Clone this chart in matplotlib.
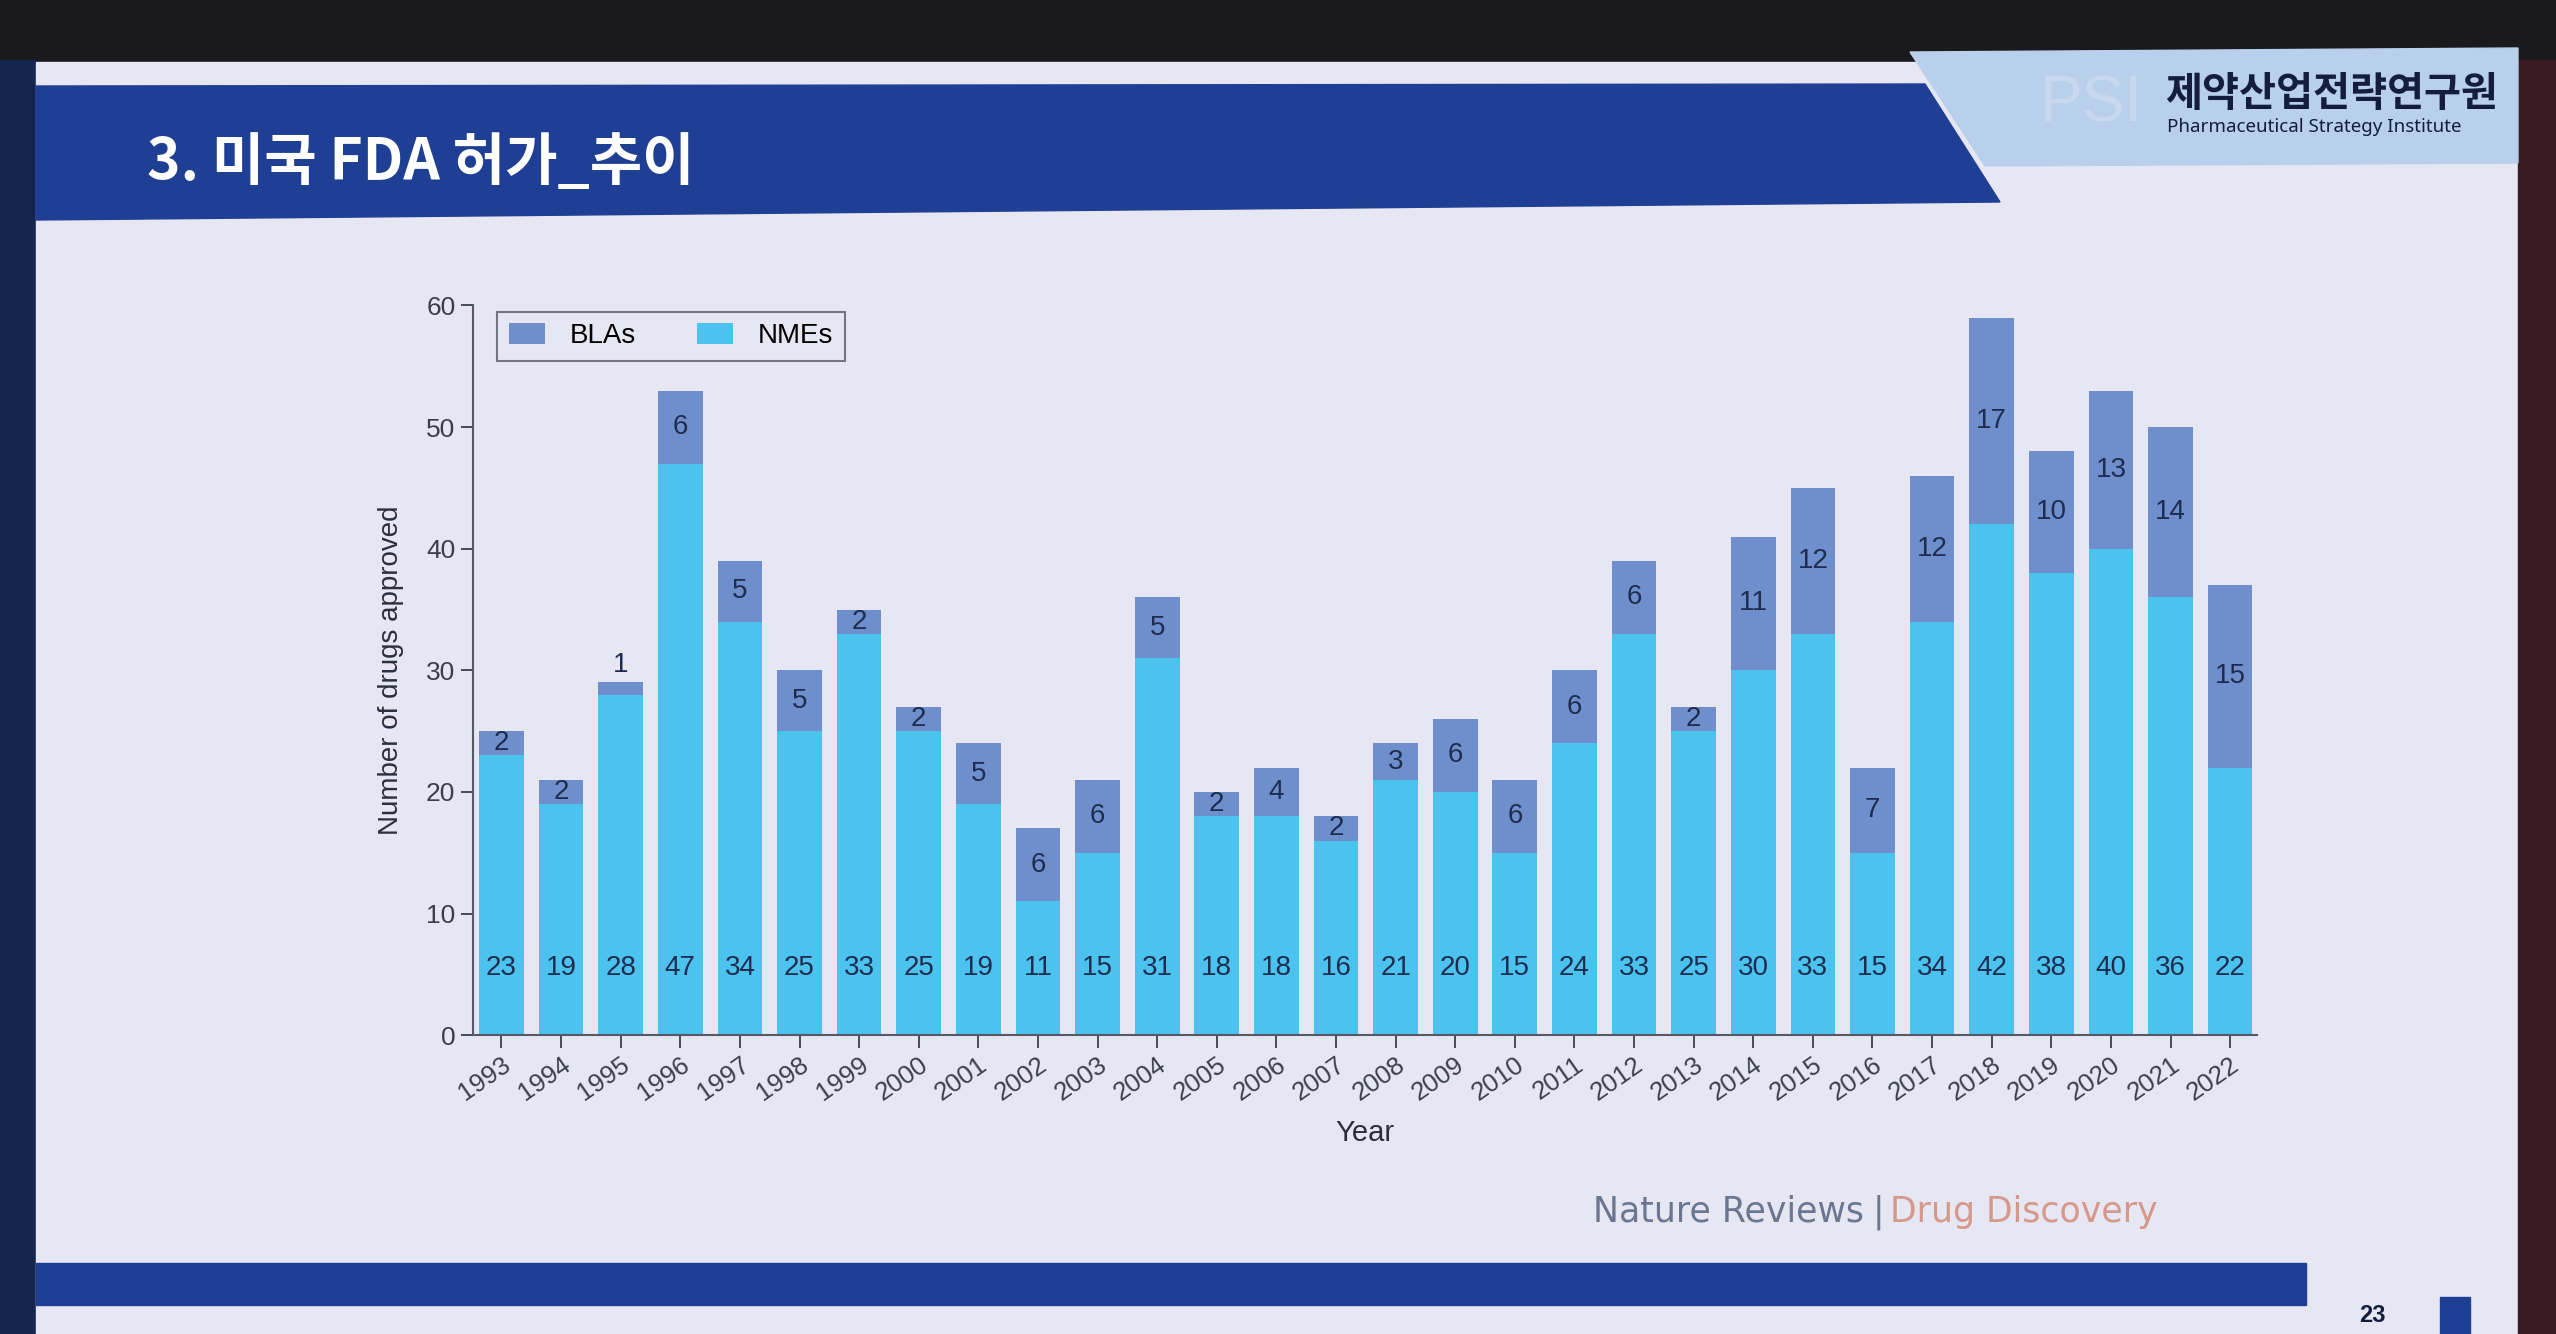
import matplotlib.pyplot as plt
import matplotlib.patches as mpatches
import numpy as np

plt.rcParams['font.family'] = ['Liberation Sans', 'Noto Sans CJK KR', 'DejaVu Sans']

years = [str(y) for y in range(1993, 2023)]
nmes = [23, 19, 28, 47, 34, 25, 33, 25, 19, 11, 15, 31, 18, 18, 16,
        21, 20, 15, 24, 33, 25, 30, 33, 15, 34, 42, 38, 40, 36, 22]
blas = [2, 2, 1, 6, 5, 5, 2, 2, 5, 6, 6, 5, 2, 4, 2,
        3, 6, 6, 6, 6, 2, 11, 12, 7, 12, 17, 10, 13, 14, 15]

title = "3. 미국 FDA 허가_추이"
org_kr = "제약산업전략연구원"
org_en = "Pharmaceutical Strategy Institute"

W, H = 2556, 1334
NME_COL = "#4cc3ef"
BLA_COL = "#6f8fcc"
SLIDE_BG = "#e6e7f2"
NAVY = "#1f3f94"
TXT = "#1e2d4f"

fig = plt.figure(figsize=(W / 100, H / 100), dpi=100)
fig.patch.set_facecolor("#1a1a1e")

# slide decoration, pixel coordinates
bg = fig.add_axes([0, 0, 1, 1])
bg.set_xlim(0, W)
bg.set_ylim(H, 0)
bg.axis("off")
bg.add_patch(mpatches.Rectangle((0, 60), 36, H, color="#14254f"))
bg.add_patch(mpatches.Rectangle((36, 62), 2482, H, color=SLIDE_BG))
bg.add_patch(mpatches.Rectangle((2518, 60), 40, H, color="#3a1a22"))
# top header band with slanted right end
bg.add_patch(mpatches.Polygon([(36, 86), (1925, 84), (2000, 202), (36, 220)],
                              closed=True, color=NAVY))
# logo panel
bg.add_patch(mpatches.Polygon([(1910, 52), (2518, 48), (2518, 163), (1985, 166)],
                              closed=True, color="#b8d0ec"))
bg.text(147, 163, title, color="white", fontsize=41, fontweight="bold",
        family=["Noto Sans CJK KR", "DejaVu Sans"], va="center")
bg.text(2165, 95, org_kr, color="#141e3c", fontsize=29, fontweight="bold",
        family=["Noto Sans CJK KR", "DejaVu Sans"], va="center")
bg.text(2167, 127, org_en, color="#141e3c", fontsize=13.5, fontweight="bold",
        family=["Noto Sans", "DejaVu Sans"], va="center")
bg.text(2040, 105, "PSI", color="#c9d8ec", fontsize=46, va="center")
# bottom band and page number
bg.add_patch(mpatches.Rectangle((36, 1263), 2270, 42, color=NAVY))
bg.add_patch(mpatches.Rectangle((2440, 1297), 30, 40, color=NAVY))
bg.text(2372, 1316, "23", color="#141e3c", fontsize=17, fontweight="bold",
        ha="center", va="center")
# source
t1 = bg.text(1593, 1212, "Nature Reviews", color="#6b7690", fontsize=25,
             va="center", family=["DejaVu Sans"])
t2 = bg.annotate("|", xy=(1, 0.5), xycoords=t1, xytext=(6, 0),
                 textcoords="offset points", color="#6b7690", fontsize=25,
                 va="center", family=["DejaVu Sans"])
bg.annotate("Drug Discovery", xy=(1, 0.5), xycoords=t2, xytext=(4, 0),
            textcoords="offset points", color="#d6988a", fontsize=25,
            va="center", family=["DejaVu Sans"])

# chart
ax = fig.add_axes([0.185, 0.224, 0.698, 0.547])
ax.set_facecolor(SLIDE_BG)
x = np.arange(len(years))
ax.bar(x, nmes, width=0.75, color=NME_COL, label="NMEs", zorder=2)
ax.bar(x, blas, width=0.75, bottom=nmes, color=BLA_COL, label="BLAs", zorder=2)

for i in range(len(years)):
    ax.text(x[i], 5.5, str(nmes[i]), ha="center", va="center",
            fontsize=20, color=TXT)
    if blas[i] >= 2:
        ax.text(x[i], nmes[i] + blas[i] / 2, str(blas[i]), ha="center",
                va="center", fontsize=20, color=TXT)
    else:
        ax.text(x[i], nmes[i] + blas[i] + 0.4, str(blas[i]), ha="center",
                va="bottom", fontsize=20, color=TXT)

ax.set_xlim(-0.48, len(years) - 0.55)
ax.set_ylim(0, 60)
ax.set_yticks(range(0, 61, 10))
ax.set_xticks(x)
ax.set_xticklabels(years, rotation=35, ha="right", rotation_mode="anchor")
ax.tick_params(axis="y", labelsize=19, colors="#3a3f4f", length=9, width=1.3)
ax.tick_params(axis="x", labelsize=18.5, colors="#3a3f4f", length=9, width=1.3)
for s in ["top", "right"]:
    ax.spines[s].set_visible(False)
for s in ["left", "bottom"]:
    ax.spines[s].set_color("#555a66")
    ax.spines[s].set_linewidth(1.5)
ax.set_ylabel("Number of drugs approved", fontsize=20, color="#2a2f3f", labelpad=16)
ax.set_xlabel("Year", fontsize=21, color="#2a2f3f", labelpad=10)

h, l = ax.get_legend_handles_labels()
leg = ax.legend(h[::-1], l[::-1], loc="upper left", bbox_to_anchor=(0.006, 1.01),
                ncol=2, fontsize=20, frameon=True, fancybox=False,
                edgecolor="#555a66", facecolor=SLIDE_BG, handlelength=1.3,
                handleheight=0.8, handletextpad=0.9, columnspacing=2.2,
                borderpad=0.4)
leg.get_frame().set_linewidth(1.5)

fig.savefig("out.png", dpi=100, facecolor=fig.get_facecolor())
